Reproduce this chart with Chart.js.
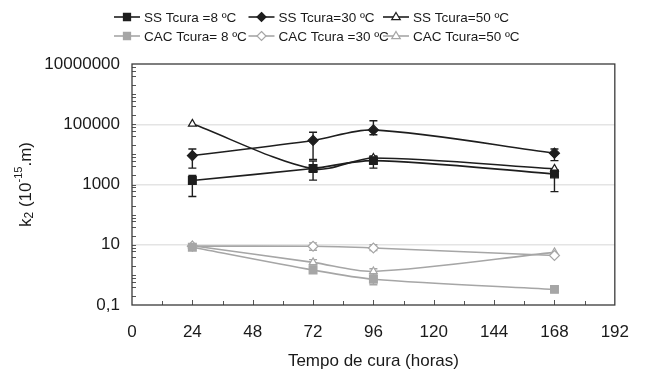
<!DOCTYPE html>
<html>
<head>
<meta charset="utf-8">
<script src="https://cdn.jsdelivr.net/npm/chart.js@4.4.1/dist/chart.umd.min.js"></script>
<style>
  body { margin: 0; background: #fff; }
  #wrap { width: 646px; height: 372px; position: relative; }
</style>
</head>
<body>
<div id="wrap"><canvas id="chart"></canvas></div>
<script>
// curing time (hours)
const hours = [24, 72, 96, 168];

const labels = ['SS Tcura =8 ºC', 'SS Tcura=30 ºC', 'SS Tcura=50 ºC',
                'CAC Tcura= 8 ºC', 'CAC Tcura =30 ºC', 'CAC Tcura=50 ºC'];

// k2 values (10^-15 m)
const ss8   = [1350, 3400, 6200, 2250];
const ss30  = [9100, 29000, 65000, 11000];
const ss50  = [103000, 3300, 7600, 3300];
const cac8  = [8.3, 1.45, 0.72, 0.33];
const cac30 = [9, 8.9, 7.8, 4.4];
const cac50 = [9.3, 2.6, 1.3, 5.6];

// error bar limits (null = no bar)
const ss8Low   = [400, 1400, 3500, 580];
const ss8High  = [2000, 6000, 8800, 3000];
const ss30Low  = [3500, 6800, 45000, 6200];
const ss30High = [15000, 54000, 130000, 15000];
const cac30Low  = [null, 6.6, 6.4, null];
const cac30High = [null, 11.5, 10, null];
const cac50Low  = [null, 2.1, 1.0, null];
const cac50High = [null, 3.2, 1.6, null];
const cac8Low   = [null, null, 0.47, null];
const cac8High  = [null, null, 0.95, null];

const yTicks = [0.1, 10, 1000, 100000, 10000000];
const yTickLabels = ['0,1', '10', '1000', '100000', '10000000'];

const BLACK = '#1e1e1e';
const GRAY = '#a6a6a6';
const FONT = 'Liberation Sans, Arial, sans-serif';

function series(label, values, color, style, fill, low, high) {
  return {
    label: label,
    data: values.map((v, i) => ({ x: hours[i], y: v })),
    borderColor: color,
    backgroundColor: fill,
    pointBackgroundColor: fill,
    pointBorderColor: color,
    pointStyle: style,
    pointRadius: style === 'triangle' ? 4.5 : (style === 'rect' ? 5.5 : 5),
    pointBorderWidth: 1.2,
    borderWidth: 1.6,
    tension: 0.3,
    errLow: low,
    errHigh: high
  };
}

const datasets = [
  series(labels[0], ss8, BLACK, 'rect', BLACK, ss8Low, ss8High),
  series(labels[1], ss30, BLACK, 'rectRot', BLACK, ss30Low, ss30High),
  series(labels[2], ss50, BLACK, 'triangle', '#fff', null, null),
  series(labels[3], cac8, GRAY, 'rect', GRAY, cac8Low, cac8High),
  series(labels[4], cac30, GRAY, 'rectRot', '#fff', cac30Low, cac30High),
  series(labels[5], cac50, GRAY, 'triangle', '#fff', cac50Low, cac50High)
];

function marker(ctx, style, x, y, r, stroke, fill) {
  ctx.save();
  ctx.strokeStyle = stroke;
  ctx.fillStyle = fill;
  ctx.lineWidth = 1.2;
  ctx.beginPath();
  if (style === 'rect') {
    const s = r * Math.SQRT1_2;
    ctx.rect(x - s, y - s, 2 * s, 2 * s);
  } else if (style === 'rectRot') {
    ctx.moveTo(x, y - r); ctx.lineTo(x + r, y); ctx.lineTo(x, y + r); ctx.lineTo(x - r, y);
    ctx.closePath();
  } else {
    ctx.moveTo(x, y - r); ctx.lineTo(x + r * 0.95, y + r * 0.6); ctx.lineTo(x - r * 0.95, y + r * 0.6);
    ctx.closePath();
  }
  ctx.fill();
  ctx.stroke();
  ctx.restore();
}

const framePlugin = {
  id: 'frame',
  beforeDatasetsDraw(chart) {
    const { ctx, chartArea: a, scales } = chart;
    const xs = scales.x, ys = scales.y;
    ctx.save();
    // tick marks inside the plot
    ctx.strokeStyle = '#555';
    ctx.lineWidth = 1;
    for (let h = 12; h < 192; h += 12) {
      const px = Math.round(xs.getPixelForValue(h)) + 0.5;
      const len = h % 24 === 0 ? 5 : 4;
      ctx.beginPath(); ctx.moveTo(px, a.bottom); ctx.lineTo(px, a.bottom - len); ctx.stroke();
    }
    for (let e = -1; e < 7; e++) {
      [2, 4, 6, 8, 10].forEach(m => {
        const v = m * Math.pow(10, e);
        if (v >= 1e7) return;
        const py = Math.round(ys.getPixelForValue(v)) + 0.5;
        ctx.beginPath(); ctx.moveTo(a.left, py); ctx.lineTo(a.left + 4, py); ctx.stroke();
      });
    }
    // plot frame
    ctx.strokeStyle = '#3a3a3a';
    ctx.lineWidth = 1.3;
    ctx.strokeRect(a.left, a.top, a.right - a.left, a.bottom - a.top);

    // error bars
    chart.data.datasets.forEach((ds, di) => {
      if (!ds.errLow) return;
      const meta = chart.getDatasetMeta(di);
      ctx.strokeStyle = ds.borderColor;
      ctx.lineWidth = 1.4;
      meta.data.forEach((pt, i) => {
        const lo = ds.errLow[i], hi = ds.errHigh[i];
        if (lo == null) return;
        const y1 = ys.getPixelForValue(lo), y2 = ys.getPixelForValue(hi);
        ctx.beginPath();
        ctx.moveTo(pt.x, y1); ctx.lineTo(pt.x, y2);
        ctx.moveTo(pt.x - 4, y1); ctx.lineTo(pt.x + 4, y1);
        ctx.moveTo(pt.x - 4, y2); ctx.lineTo(pt.x + 4, y2);
        ctx.stroke();
      });
    });
    ctx.restore();
  },
  afterDraw(chart) {
    const { ctx, chartArea: a } = chart;
    ctx.save();
    ctx.fillStyle = '#1a1a1a';
    // y axis title with sub/superscript
    ctx.translate(25, (a.top + a.bottom) / 2);
    ctx.rotate(-Math.PI / 2);
    const parts = [
      ['k', 17, 0], ['2', 12, 4], [' (10', 17, 0], ['-15', 11, -7], ['.m)', 17, 0]
    ];
    let total = 0;
    parts.forEach(p => { ctx.font = p[1] + 'px ' + FONT; total += ctx.measureText(p[0]).width; });
    let x = -total / 2;
    ctx.textBaseline = 'middle';
    parts.forEach(p => {
      ctx.font = p[1] + 'px ' + FONT;
      ctx.fillText(p[0], x, p[2] + 1);
      x += ctx.measureText(p[0]).width;
    });
    ctx.restore();

    // legend: 3 columns x 2 rows
    ctx.save();
    ctx.font = '13.5px ' + FONT;
    ctx.textBaseline = 'middle';
    chart.data.datasets.forEach((ds, i) => {
      const col = i % 3, row = Math.floor(i / 3);
      const tx = 144 + col * 134.5;
      const ty = 17 + row * 19;
      ctx.strokeStyle = ds.borderColor;
      ctx.lineWidth = 1.6;
      ctx.beginPath(); ctx.moveTo(tx - 30, ty); ctx.lineTo(tx - 4, ty); ctx.stroke();
      marker(ctx, ds.pointStyle, tx - 17, ty, ds.pointStyle === 'rect' ? 5 : 4.5, ds.borderColor, ds.pointBackgroundColor);
      ctx.fillStyle = '#1a1a1a';
      ctx.fillText(ds.label, tx, ty + 1);
    });
    ctx.restore();
  }
};

new Chart(document.getElementById('chart'), {
  type: 'line',
  data: { datasets: datasets },
  plugins: [framePlugin],
  options: {
    responsive: true,
    maintainAspectRatio: false,
    animation: false,
    layout: { padding: { top: 64, right: 18, left: 0, bottom: 0 } },
    plugins: { legend: { display: false }, tooltip: { enabled: false } },
    scales: {
      x: {
        type: 'linear', min: 0, max: 192,
        ticks: { stepSize: 24, padding: 17, color: '#1a1a1a', font: { family: FONT, size: 17 } },
        grid: { display: false, drawTicks: false },
        border: { display: false },
        title: { display: true, text: 'Tempo de cura (horas)', color: '#1a1a1a',
                 font: { family: FONT, size: 17 }, padding: { top: 0, bottom: 0 } },
        afterFit(s) { s.height = 67; }
      },
      y: {
        type: 'logarithmic', min: 0.1, max: 10000000,
        afterBuildTicks(s) { s.ticks = yTicks.map(v => ({ value: v })); },
        ticks: {
          padding: 12, color: '#1a1a1a', font: { family: FONT, size: 17 },
          callback: (v, i) => yTickLabels[i]
        },
        grid: {
          drawTicks: false, lineWidth: 1.5,
          color: c => (c.index === 0 || c.index === yTicks.length - 1) ? 'rgba(0,0,0,0)' : '#e4e4e4'
        },
        border: { display: false },
        afterFit(s) { s.width = 132; }
      }
    }
  }
});
</script>
</body>
</html>
